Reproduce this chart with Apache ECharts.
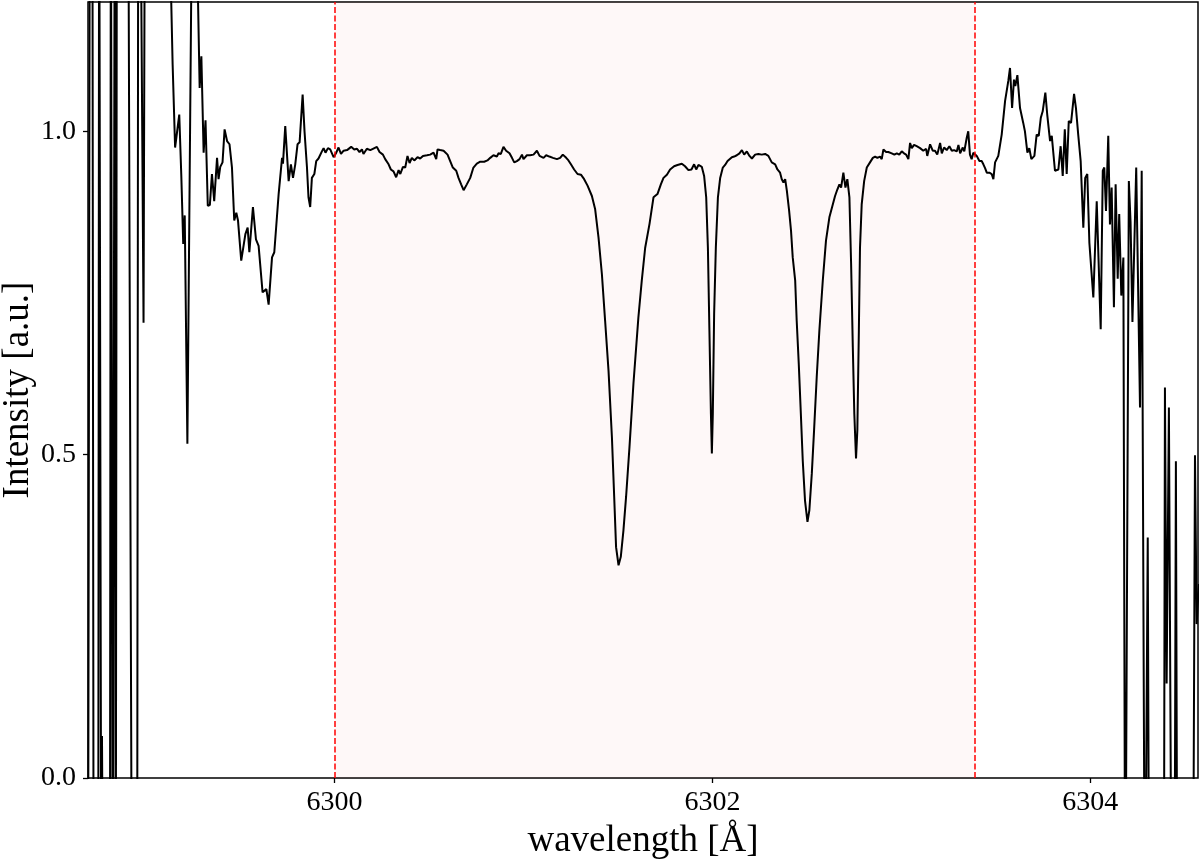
<!DOCTYPE html>
<html>
<head>
<meta charset="utf-8">
<title>spectrum</title>
<script src="https://cdn.jsdelivr.net/npm/echarts@6/dist/echarts.min.js"></script>
<style>
    html, body {
        margin: 0;
        padding: 0;
        background: #fff;
    }
    #spectrum {
        width: 1200px;
        height: 863px;
    }
</style>
</head>
<body>
<div id="spectrum"></div>
<script>
    // wavelength [A] and intensity (values outside 0..1.2 run off the frame)
    var wavelength = [
        6298.695, 6298.705, 6298.718, 6298.725, 6298.749, 6298.754, 6298.758, 6298.765, 6298.769, 6298.776,
        6298.811, 6298.816, 6298.826, 6298.832, 6298.837, 6298.842, 6298.848, 6298.907, 6298.928, 6298.955,
        6298.961, 6298.975, 6298.989, 6298.995, 6299.128, 6299.143, 6299.156, 6299.178, 6299.189, 6299.199,
        6299.207, 6299.221, 6299.244, 6299.271, 6299.286, 6299.295, 6299.307, 6299.317, 6299.329, 6299.340,
        6299.351, 6299.363, 6299.378, 6299.386, 6299.395, 6299.407, 6299.418, 6299.431, 6299.444, 6299.457,
        6299.469, 6299.480, 6299.489, 6299.506, 6299.528, 6299.540, 6299.549, 6299.568, 6299.584, 6299.598,
        6299.619, 6299.639, 6299.651, 6299.669, 6299.681, 6299.704, 6299.722, 6299.727, 6299.739, 6299.757,
        6299.769, 6299.780, 6299.792, 6299.804, 6299.815, 6299.831, 6299.841, 6299.854, 6299.862, 6299.871,
        6299.880, 6299.893, 6299.903, 6299.915, 6299.933, 6299.942, 6299.952, 6299.965, 6299.977, 6299.995,
        6300.009, 6300.021, 6300.034, 6300.048, 6300.066, 6300.088, 6300.104, 6300.119, 6300.132, 6300.145,
        6300.153, 6300.171, 6300.189, 6300.203, 6300.224, 6300.238, 6300.256, 6300.268, 6300.286, 6300.298,
        6300.312, 6300.326, 6300.339, 6300.348, 6300.362, 6300.374, 6300.386, 6300.397, 6300.409, 6300.422,
        6300.439, 6300.453, 6300.468, 6300.489, 6300.506, 6300.524, 6300.538, 6300.545, 6300.559, 6300.577,
        6300.598, 6300.612, 6300.626, 6300.644, 6300.656, 6300.670, 6300.683, 6300.700, 6300.718, 6300.735,
        6300.753, 6300.771, 6300.792, 6300.809, 6300.824, 6300.841, 6300.859, 6300.868, 6300.880, 6300.894,
        6300.908, 6300.926, 6300.939, 6300.951, 6300.965, 6300.979, 6300.992, 6301.000, 6301.018, 6301.035,
        6301.053, 6301.071, 6301.085, 6301.106, 6301.120, 6301.137, 6301.156, 6301.177, 6301.194, 6301.208,
        6301.226, 6301.238, 6301.251, 6301.268, 6301.286, 6301.304, 6301.321, 6301.339, 6301.362, 6301.379,
        6301.397, 6301.415, 6301.432, 6301.450, 6301.468, 6301.480, 6301.490, 6301.503, 6301.515, 6301.529,
        6301.543, 6301.561, 6301.582, 6301.608, 6301.626, 6301.644, 6301.667, 6301.688, 6301.709, 6301.727,
        6301.741, 6301.759, 6301.776, 6301.797, 6301.815, 6301.838, 6301.855, 6301.873, 6301.889, 6301.903,
        6301.914, 6301.926, 6301.944, 6301.956, 6301.967, 6301.976, 6301.984, 6301.992, 6301.997, 6302.002,
        6302.009, 6302.018, 6302.029, 6302.041, 6302.055, 6302.067, 6302.080, 6302.090, 6302.103, 6302.115,
        6302.129, 6302.143, 6302.156, 6302.168, 6302.182, 6302.196, 6302.209, 6302.226, 6302.243, 6302.261,
        6302.279, 6302.296, 6302.314, 6302.332, 6302.344, 6302.358, 6302.367, 6302.376, 6302.385, 6302.394,
        6302.406, 6302.416, 6302.425, 6302.438, 6302.446, 6302.457, 6302.468, 6302.478, 6302.490, 6302.503,
        6302.513, 6302.526, 6302.538, 6302.552, 6302.566, 6302.584, 6302.601, 6302.619, 6302.637, 6302.649,
        6302.661, 6302.672, 6302.681, 6302.693, 6302.704, 6302.714, 6302.725, 6302.734, 6302.743, 6302.751,
        6302.760, 6302.767, 6302.775, 6302.781, 6302.790, 6302.803, 6302.817, 6302.834, 6302.849, 6302.861,
        6302.873, 6302.887, 6302.896, 6302.905, 6302.919, 6302.931, 6302.949, 6302.963, 6302.976, 6302.989,
        6303.002, 6303.014, 6303.025, 6303.037, 6303.046, 6303.055, 6303.067, 6303.081, 6303.099, 6303.116,
        6303.131, 6303.137, 6303.152, 6303.166, 6303.178, 6303.190, 6303.205, 6303.214, 6303.226, 6303.240,
        6303.254, 6303.267, 6303.279, 6303.293, 6303.302, 6303.311, 6303.325, 6303.333, 6303.346, 6303.354,
        6303.363, 6303.372, 6303.381, 6303.390, 6303.399, 6303.413, 6303.425, 6303.434, 6303.443, 6303.452,
        6303.466, 6303.478, 6303.487, 6303.496, 6303.513, 6303.531, 6303.549, 6303.566, 6303.575, 6303.586,
        6303.596, 6303.603, 6303.614, 6303.628, 6303.645, 6303.654, 6303.667, 6303.677, 6303.688, 6303.704,
        6303.716, 6303.727, 6303.738, 6303.748, 6303.762, 6303.772, 6303.787, 6303.796, 6303.813, 6303.831,
        6303.843, 6303.854, 6303.865, 6303.875, 6303.886, 6303.898, 6303.914, 6303.924, 6303.936, 6303.949,
        6303.963, 6303.973, 6303.984, 6303.995, 6304.004, 6304.016, 6304.034, 6304.055, 6304.066, 6304.074,
        6304.083, 6304.095, 6304.104, 6304.113, 6304.125, 6304.134, 6304.145, 6304.153, 6304.164, 6304.175,
        6304.185, 6304.204, 6304.213, 6304.223, 6304.243, 6304.263, 6304.272, 6304.289, 6304.304, 6304.312,
        6304.389, 6304.395, 6304.404, 6304.416, 6304.431, 6304.445, 6304.453, 6304.461, 6304.543, 6304.554,
        6304.563, 6304.575
    ];
    var intensity = [
        -0.3, 1.5, 1.5, -0.3, -0.3, 1.5, 1.5, -0.2, 0.065, -0.3,
        -0.3, 1.5, -0.3, -0.3, 1.5, -0.3, 1.5, 1.5, -0.3, -0.3,
        1.5, 1.3, 0.704, 1.3, 1.3, 1.103, 0.975, 1.026, 0.930, 0.826,
        0.870, 0.517, 1.3, 1.3, 1.067, 1.116, 0.967, 1.017, 0.885, 0.886,
        0.934, 0.892, 0.959, 0.926, 0.945, 0.952, 1.003, 0.985, 0.980, 0.944,
        0.862, 0.874, 0.862, 0.800, 0.841, 0.851, 0.813, 0.883, 0.833, 0.823,
        0.751, 0.756, 0.732, 0.805, 0.813, 0.903, 0.959, 0.950, 1.008, 0.923,
        0.949, 0.928, 0.949, 0.980, 0.983, 1.057, 1.000, 0.944, 0.898, 0.883,
        0.928, 0.934, 0.954, 0.958, 0.969, 0.974, 0.967, 0.974, 0.972, 0.960,
        0.967, 0.975, 0.965, 0.970, 0.971, 0.976, 0.972, 0.973, 0.968, 0.972,
        0.965, 0.973, 0.971, 0.973, 0.976, 0.968, 0.964, 0.957, 0.949, 0.941,
        0.938, 0.929, 0.940, 0.934, 0.945, 0.944, 0.962, 0.951, 0.959, 0.955,
        0.960, 0.958, 0.962, 0.963, 0.964, 0.967, 0.957, 0.972, 0.971, 0.970,
        0.964, 0.954, 0.944, 0.939, 0.928, 0.918, 0.909, 0.918, 0.928, 0.944,
        0.950, 0.953, 0.953, 0.955, 0.959, 0.963, 0.961, 0.966, 0.965, 0.976,
        0.970, 0.966, 0.959, 0.952, 0.954, 0.957, 0.964, 0.957, 0.963, 0.963,
        0.964, 0.970, 0.962, 0.959, 0.963, 0.961, 0.959, 0.957, 0.959, 0.964,
        0.959, 0.955, 0.949, 0.941, 0.934, 0.933, 0.926, 0.916, 0.900, 0.880,
        0.836, 0.779, 0.707, 0.630, 0.527, 0.435, 0.357, 0.329, 0.342, 0.383,
        0.435, 0.512, 0.610, 0.712, 0.769, 0.820, 0.857, 0.898, 0.903, 0.918,
        0.928, 0.933, 0.941, 0.946, 0.948, 0.950, 0.946, 0.940, 0.941, 0.949,
        0.941, 0.948, 0.945, 0.931, 0.898, 0.820, 0.692, 0.563, 0.502, 0.563,
        0.718, 0.820, 0.898, 0.928, 0.944, 0.948, 0.954, 0.952, 0.960, 0.961,
        0.963, 0.966, 0.971, 0.964, 0.969, 0.962, 0.958, 0.964, 0.965, 0.964,
        0.965, 0.962, 0.952, 0.949, 0.941, 0.936, 0.926, 0.921, 0.926, 0.908,
        0.877, 0.846, 0.805, 0.769, 0.707, 0.640, 0.563, 0.491, 0.429, 0.396,
        0.414, 0.471, 0.538, 0.620, 0.692, 0.769, 0.831, 0.867, 0.887, 0.900,
        0.910, 0.918, 0.913, 0.936, 0.913, 0.926, 0.898, 0.795, 0.666, 0.563,
        0.494, 0.538, 0.692, 0.820, 0.887, 0.923, 0.944, 0.952, 0.959, 0.961,
        0.959, 0.961, 0.957, 0.972, 0.968, 0.968, 0.966, 0.964, 0.966, 0.964,
        0.969, 0.966, 0.964, 0.957, 0.982, 0.974, 0.979, 0.977, 0.974, 0.970,
        0.973, 0.962, 0.980, 0.970, 0.970, 0.964, 0.982, 0.966, 0.975, 0.971,
        0.977, 0.970, 0.971, 0.969, 0.979, 0.966, 0.975, 0.969, 0.990, 1.000,
        0.964, 0.957, 0.967, 0.970, 0.962, 0.954, 0.954, 0.949, 0.943, 0.936,
        0.936, 0.934, 0.926, 0.952, 0.962, 0.995, 1.047, 1.078, 1.098, 1.036,
        1.080, 1.070, 1.087, 1.036, 1.013, 1.000, 0.967, 0.974, 0.957, 0.962,
        0.995, 0.993, 1.021, 1.031, 1.060, 1.026, 0.985, 0.993, 0.939, 0.941,
        0.977, 0.931, 1.003, 0.934, 1.016, 1.013, 1.058, 1.036, 0.995, 0.954,
        0.851, 0.928, 0.934, 0.828, 0.825, 0.743, 0.892, 0.694, 0.939, 0.944,
        0.877, 0.993, 0.856, 0.913, 0.728, 0.918, 0.772, 0.872, 0.746, 0.805,
        -0.3, 0.923, 0.860, 0.705, 0.944, 0.573, 0.939, -0.3, 0.372, -0.3,
        -0.3, 0.604, 0.146, 0.573, -0.3, -0.3, 0.490, -0.3, -0.3, 0.499,
        0.238, 0.300
    ];

    // x range of the frame and the selected window
    var xRange = [6298.695, 6304.57];
    var yRange = [0, 1.2];
    var windowEdges = [6300.0, 6303.39];
    var xTicks = [6300, 6302, 6304];
    var yTicks = [0, 0.5, 1.0];

    var serif = 'Liberation Serif';
    var chartDom = document.getElementById('spectrum');
    var myChart = echarts.init(chartDom);
    var option;

    var seriesData = wavelength.map(function (w, i) {
        return [w, intensity[i]];
    });

    option = {
        backgroundColor: '#fff',
        animation: false,
        grid: {
            left: 88,
            right: 2,
            top: 2,
            bottom: 85,
            outerBoundsMode: 'none',
            containLabel: false,
            show: true,
            borderColor: '#000',
            borderWidth: 1.5,
            backgroundColor: 'transparent'
        },
        xAxis: {
            type: 'value',
            min: xRange[0],
            max: xRange[1],
            name: 'wavelength [Å]',
            nameLocation: 'middle',
            nameGap: 45,
            nameMoveOverlap: false,
            nameTextStyle: {
                fontFamily: serif,
                fontSize: 37,
                color: '#000'
            },
            axisLine: { show: false },
            splitLine: { show: false },
            axisTick: {
                show: true,
                inside: false,
                length: 5,
                customValues: xTicks,
                lineStyle: { color: '#000', width: 1.3 }
            },
            axisLabel: {
                customValues: xTicks,
                margin: 11,
                fontFamily: serif,
                fontSize: 28,
                color: '#000',
                formatter: function (v) {
                    return String(v);
                }
            }
        },
        yAxis: {
            type: 'value',
            min: yRange[0],
            max: yRange[1],
            name: 'Intensity [a.u.]',
            nameLocation: 'middle',
            nameGap: 51,
            nameMoveOverlap: false,
            nameTextStyle: {
                fontFamily: serif,
                fontSize: 37,
                color: '#000'
            },
            axisLine: { show: false },
            splitLine: { show: false },
            axisTick: {
                show: true,
                inside: false,
                length: 5,
                customValues: yTicks,
                lineStyle: { color: '#000', width: 1.3 }
            },
            axisLabel: {
                customValues: yTicks,
                margin: 12,
                fontFamily: serif,
                fontSize: 28,
                color: '#000',
                formatter: function (v) {
                    return v.toFixed(1);
                }
            }
        },
        series: [{
            name: 'spectrum',
            type: 'line',
            data: seriesData,
            showSymbol: false,
            clip: true,
            lineStyle: {
                color: '#000',
                width: 2
            },
            markArea: {
                silent: true,
                itemStyle: {
                    color: 'rgba(240,128,128,0.06)'
                },
                data: [[{ xAxis: windowEdges[0] }, { xAxis: windowEdges[1] }]]
            },
            markLine: {
                silent: true,
                symbol: 'none',
                label: { show: false },
                lineStyle: {
                    color: '#ff0000',
                    type: [6, 2.5],
                    width: 1.5
                },
                data: [{ xAxis: windowEdges[0] }, { xAxis: windowEdges[1] }]
            }
        }]
    };

    option && myChart.setOption(option);
</script>
</body>
</html>
